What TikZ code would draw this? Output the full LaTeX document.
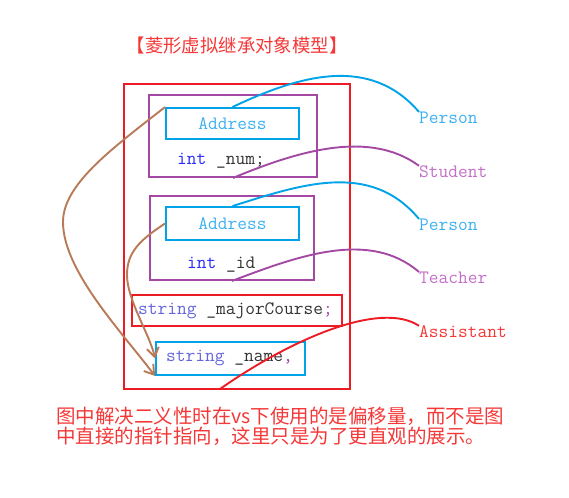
\documentclass[tikz,border=0pt]{standalone}
\usepackage{fontspec}
\newfontfamily\cjk{Noto Sans CJK SC}
\usetikzlibrary{arrows.meta}

\definecolor{turq}{RGB}{0,162,232}
\definecolor{purp}{RGB}{163,73,164}
\definecolor{brwn}{RGB}{185,122,87}
\definecolor{redl}{RGB}{237,28,36}
\definecolor{kw}{RGB}{40,40,255}
\definecolor{kwstr}{RGB}{100,100,220}
\definecolor{idf}{RGB}{50,50,50}
\definecolor{lblue}{RGB}{60,175,240}
\definecolor{lpurp}{RGB}{195,110,200}
\definecolor{lred}{RGB}{245,55,55}

\tikzset{
  box/.style={draw, line width=1.9pt, minimum width=#1, inner sep=0pt},
  code/.style={font=\ttfamily\fontsize{18.9}{20}\selectfont, inner sep=0pt},
  lbl/.style={code, anchor=west},
  link/.style={line width=1.9pt},
  back/.style={line width=1.9pt, brwn, -{Straight Barb[length=9pt,width=12pt]}}
}

\begin{document}
\begin{tikzpicture}[x=1pt,y=-1pt]
    \useasboundingbox (0,0) rectangle (569,497);

    % title
    \node[lred, inner sep=0pt] (title) at (237,46)
      {\cjk\fontsize{18.4}{20}\selectfont 【菱形虚拟继承对象模型】};

    % object layout
    \node[box=226pt, redl, minimum height=305pt] (obj) at (237,236.5) {};
    \node[box=168pt, purp, minimum height=82pt] (stu) at (233,136) {};
    \node[box=133pt, turq, minimum height=31pt, code, text=lblue] (addrA) at (232.5,123.5) {Address};
    \node[code, anchor=west, text=idf] (num) at (177,161) {\textcolor{kw}{int} \_num;};
    \node[box=164pt, purp, minimum height=84pt] (tea) at (232,238) {};
    \node[box=133pt, turq, minimum height=33pt, code, text=lblue] (addrB) at (232.5,223.5) {Address};
    \node[code, anchor=west, text=idf] (id) at (187,265) {\textcolor{kw}{int} \_id};
    \node[box=210pt, redl, minimum height=31pt] (major) at (237,310.5) {};
    \node[code, anchor=west, text=idf] at (138,310.5) {\textcolor{kwstr}{string} \_majorCourse\textcolor{purp}{;}};
    \node[box=149pt, turq, minimum height=33pt] (name) at (230.5,358.5) {};
    \node[code, anchor=west, text=idf] at (166,358) {\textcolor{kwstr}{string} \_name\textcolor{purp}{,}};

    % class names
    \node[lbl, text=lblue] (pA) at (419,118) {Person};
    \node[lbl, text=lpurp] (st) at (419,172) {Student};
    \node[lbl, text=lblue] (pB) at (419,225) {Person};
    \node[lbl, text=lpurp] (te) at (419,278) {Teacher};
    \node[lbl, text=lred] (as) at (419,332) {Assistant};
    \coordinate (rs) at (220,389);

    \draw[link, turq] (addrA.north) .. controls (300,75) and (370,55) .. (pA.north west);
    \draw[link, purp] (stu.south) .. controls (300,150) and (370,130) .. (st.north west);
    \draw[link, turq] (addrB.north) .. controls (300,185) and (370,160) .. (pB.north west);
    \draw[link, purp] (tea.south) .. controls (300,255) and (370,230) .. (te.north west);
    \draw[link, redl] (rs) .. controls (290,340) and (380,300) .. (as.north west);

    % offsets to the shared base
    \draw[back] (addrA.north west) .. controls (110,150) and (63,185) .. (63,222)
      .. controls (63,270) and (120,330) .. (name.south west);
    \draw[back] (addrB.west) .. controls (140,240) and (127,252) .. (127,275)
      .. controls (127,300) and (150,335) .. (name.west);

    % note
    \node[lred, anchor=north west, inner sep=0pt, align=left] (note) at (56,407)
      {\cjk\fontsize{19.5}{23.5}\selectfont 图中解决二义性时在vs下使用的是偏移量，而不是图\\
       \cjk\fontsize{19.5}{23.5}\selectfont 中直接的指针指向，这里只是为了更直观的展示。};
\end{tikzpicture}
\end{document}
